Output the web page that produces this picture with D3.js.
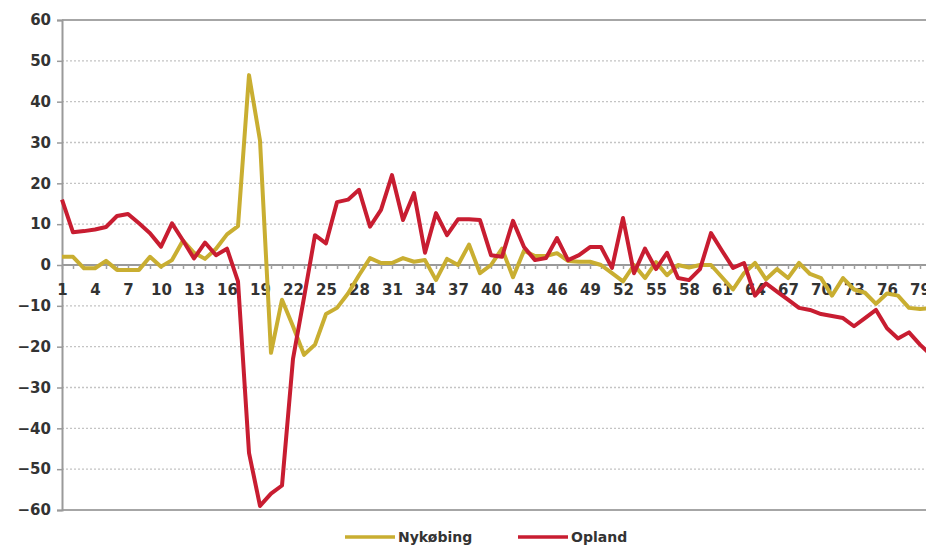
<!DOCTYPE html>
<html>
<head>
<meta charset="utf-8">
<script src="https://cdn.jsdelivr.net/npm/d3@7"></script>
<style>
  body { margin: 0; background: #fff; }
  svg { display: block; font-family: "DejaVu Sans", Verdana, sans-serif; }
</style>
</head>
<body>
<div id="chart"></div>
<script>
// categories 1..80 on the x axis
var categories = d3.range(1, 81)

var seriesNames = ["Nykøbing", "Opland"]

var nykobing = [2, 2, -0.8, -0.8, 1, -1.2, -1.2, -1.2, 2, -0.4,
  1.2, 6, 3, 1.5, 4, 7.5, 9.5, 46.5, 30.5, -21.5,
  -8.5, -15, -22, -19.5, -12, -10.5, -7, -2.5, 1.7, 0.5,
  0.5, 1.7, 0.8, 1.2, -3.7, 1.5, 0, 5, -2, 0,
  4, -3, 3.5, 2.2, 2.2, 2.9, 1, 0.8, 0.8, 0,
  -2, -4, 0, -3.2, 0.7, -2.5, 0, -0.6, 0, 0,
  -3, -6, -2, 0.5, -3.5, -1, -3.2, 0.5, -2.2, -3.2,
  -7.5, -3.2, -6, -6.8, -9.5, -7, -7.5, -10.5, -10.8, -10.5]

var opland = [16, 8, 8.3, 8.7, 9.3, 12, 12.5, 10.2, 7.8, 4.5,
  10.2, 6, 1.6, 5.5, 2.4, 4, -4, -46, -59, -56,
  -54, -23, -8, 7.3, 5.3, 15.4, 16, 18.4, 9.4, 13.5,
  22, 11, 17.6, 3, 12.7, 7.3, 11.2, 11.2, 11, 2.4,
  2, 10.8, 4.4, 1.2, 1.7, 6.6, 1.2, 2.4, 4.4, 4.4,
  -0.7, 11.5, -2, 4, -1, 3, -3.2, -3.7, -1, 7.8,
  3.5, -0.7, 0.5, -7.5, -4.5, -6.5, -8.5, -10.5, -11, -12,
  -12.5, -13, -15, -13, -11, -15.5, -18, -16.5, -19.5, -22]

var yTicks = d3.range(-60, 61, 10)

var colors = ["#c9ae31", "#c81d31"]

var width = 926,
    height = 547,
    margin = { top: 20, left: 62, bottom: 37 }

var svg = d3.select("#chart")
    .append("svg")
    .attr("width", width)
    .attr("height", height)

var x = d3.scalePoint()
    .domain(categories)
    .range([margin.left, margin.left + 79 * 11])

var y = d3.scaleLinear()
    .domain([-60, 60])
    .range([height - margin.bottom, margin.top])

// gridlines (dotted), top and bottom solid
svg.append("g")
    .selectAll("line")
    .data(yTicks)
    .enter().append("line")
    .attr("x1", margin.left)
    .attr("x2", width)
    .attr("y1", function(d) { return y(d) })
    .attr("y2", function(d) { return y(d) })
    .attr("stroke", function(d) { return (d === 60 || d === -60) ? "#a6a6a6" : "#c4c4c4" })
    .attr("stroke-width", function(d) { return (d === 60 || d === -60) ? 2 : 1.3 })
    .attr("stroke-dasharray", function(d) { return (d === 60 || d === -60) ? null : "2,2" })
    .style("display", function(d) { return d === 0 ? "none" : null })

// y axis
var yAxis = svg.append("g")
    .attr("transform", "translate(" + margin.left + ",0)")
    .call(d3.axisLeft(y).tickValues(yTicks).tickSize(5).tickPadding(6))

yAxis.select(".domain").attr("stroke", "#9a9a9a").attr("stroke-width", 2)
yAxis.selectAll(".tick line").attr("stroke", "#9a9a9a").attr("stroke-width", 1.5)
yAxis.selectAll("text")
    .attr("font-size", "15px")
    .attr("font-weight", "bold")
    .attr("fill", "#333")
    .attr("font-family", "DejaVu Sans")

// x axis along zero
var xAxis = svg.append("g")
    .attr("transform", "translate(0," + y(0) + ")")
    .call(d3.axisBottom(x)
      .tickSize(4)
      .tickPadding(15)
      .tickFormat(function(d) { return (d - 1) % 3 === 0 ? d : "" }))

xAxis.select(".domain").attr("d", "M" + margin.left + ",0H" + width)
    .attr("stroke", "#9a9a9a").attr("stroke-width", 2)
xAxis.selectAll(".tick line").attr("stroke", "#a0a0a0").attr("stroke-width", 1.5)
xAxis.selectAll("text")
    .attr("font-size", "15px")
    .attr("font-weight", "bold")
    .attr("fill", "#333")
    .attr("font-family", "DejaVu Sans")

// lines
var line = d3.line()
    .x(function(d, i) { return x(categories[i]) })
    .y(function(d) { return y(d) })

var series = [nykobing, opland]

svg.append("g")
    .selectAll("path")
    .data(series)
    .enter().append("path")
    .attr("d", line)
    .attr("fill", "none")
    .attr("stroke", function(d, i) { return colors[i] })
    .attr("stroke-width", 4)
    .attr("stroke-linejoin", "round")

// legend
var legendX = [345, 518]
var legend = svg.append("g")
    .selectAll("g")
    .data(seriesNames)
    .enter().append("g")
    .attr("transform", function(d, i) { return "translate(" + legendX[i] + ",537)" })

legend.append("line")
    .attr("x1", 0)
    .attr("x2", 50)
    .attr("stroke", function(d, i) { return colors[i] })
    .attr("stroke-width", 3.5)

legend.append("text")
    .text(function(d) { return d })
    .attr("x", 53)
    .attr("y", 5)
    .attr("font-size", "14px")
    .attr("font-weight", "bold")
    .attr("fill", "#333")
</script>
</body>
</html>
